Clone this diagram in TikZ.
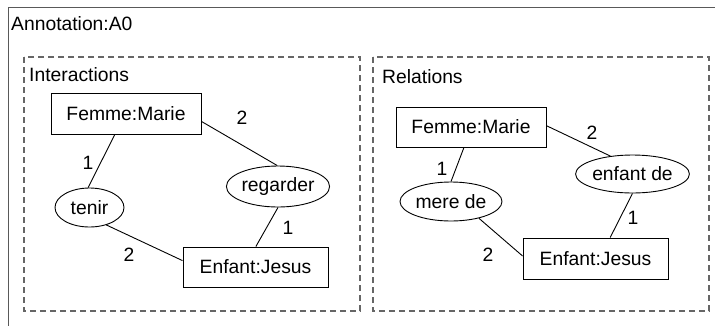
\documentclass[tikz,border=0pt]{standalone}
\usepackage{fontspec}
\setmainfont{Liberation Sans}
\usetikzlibrary{shapes.geometric}
\begin{document}
\begin{tikzpicture}[x=1pt,y=-1pt,
  every node/.style={font=\fontsize{19.3}{23}\selectfont, inner sep=0pt},
  frame/.style={draw=black!65, line width=1pt},
  panel/.style={draw=black!60, line width=1.2pt, dash pattern=on 6pt off 4pt},
  concept/.style={draw, line width=0.9pt, rectangle},
  rel/.style={draw, line width=0.9pt, ellipse},
  link/.style={line width=0.9pt}]
\useasboundingbox (0,0) rectangle (715,325);
\draw[frame] (8,330) -- (8,7) -- (720,7);
\node[anchor=west] (ann) at (11,24) {Annotation:A0};
% Interactions panel
\draw[panel] (24,57) rectangle (360,311);
\node[anchor=west] (inter) at (29,75) {Interactions};
\node[concept, minimum width=150, minimum height=41] (fm1) at (126,113.5) {Femme:Marie};
\node[concept, minimum width=145, minimum height=40] (ej1) at (255.5,267) {Enfant:Jesus};
\node[rel, minimum width=69, minimum height=39] (tenir) at (89.5,207.5) {tenir};
\node[rel, minimum width=100, minimum height=41] (reg) at (278,186.5) {regarder};
\draw[link] (fm1.-118) -- (tenir.94);
\draw[link] (fm1.-6.5) -- (reg.92);
\draw[link] (tenir.-46) -- (ej1.175);
\draw[link] (reg.-90) -- (ej1.89);
\node (l1) at (88,163) {1};
\node (l2) at (242,118) {2};
\node (l3) at (129,255) {2};
\node (l4) at (288,228) {1};
% Relations panel
\draw[panel] (373,57) rectangle (709,311);
\node[anchor=west] (relt) at (382,77) {Relations};
\node[concept, minimum width=150, minimum height=40] (fm2) at (471,127) {Femme:Marie};
\node[concept, minimum width=145, minimum height=41] (ej2) at (595.5,258.5) {Enfant:Jesus};
\node[rel, minimum width=102, minimum height=39] (mere) at (451,201.5) {mere de};
\node[rel, minimum width=101, minimum height=38] (enf) at (632.5,174) {enfant de};
\draw[link] (fm2.-109) -- (mere.90);
\draw[link] (fm2.1) -- (enf.141);
\draw[link] (mere.-31) -- (ej2.178);
\draw[link] (enf.-90) -- (ej2.55);
\node (m1) at (442,169) {1};
\node (m2) at (592,133) {2};
\node (m3) at (488,255) {2};
\node (m4) at (633,218) {1};
\end{tikzpicture}
\end{document}
